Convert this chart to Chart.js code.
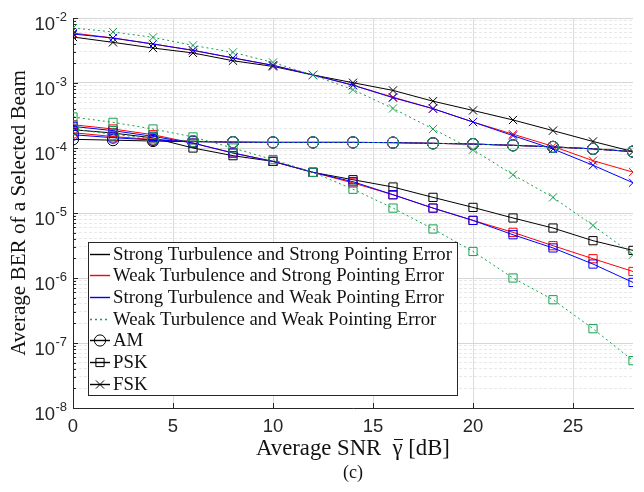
<!DOCTYPE html>
<html>
<head>
<meta charset="utf-8">
<script src="https://cdn.jsdelivr.net/npm/chart.js@4.4.1/dist/chart.umd.min.js"></script>
<style>
html,body{margin:0;padding:0;background:#fff;}
#wrap{position:relative;width:644px;height:492px;}
</style>
</head>
<body>
<div id="wrap"><canvas id="c" width="644" height="492"></canvas></div>
<script>
// ---------- data ----------
const snr = [0,2,4,6,8,10,12,14,16,18,20,22,24,26,28];
const xTickValues = [0,5,10,15,20,25];
const yTickExponents = [-8,-7,-6,-5,-4,-3,-2];
const scenarioNames = [
  'Strong Turbulence and Strong Pointing Error',
  'Weak Turbulence and Strong Pointing Error',
  'Strong Turbulence and Weak Pointing Error',
  'Weak Turbulence and Weak Pointing Error'
];
const modulationNames = ['AM','PSK','FSK'];
const xTitleParts = ['Average SNR  ', '\u03B3', ' [dB]'];
const yTitleText = 'Average BER of a Selected Beam';
const captionText = '(c)';

// AM
const amSS = [1.36e-4,1.32e-4,1.28e-4,1.25e-4,1.23e-4,1.22e-4,1.22e-4,1.22e-4,1.21e-4,1.18e-4,1.15e-4,1.10e-4,1.04e-4,9.7e-5,8.8e-5];
const amWS = [1.72e-4,1.50e-4,1.35e-4,1.27e-4,1.23e-4,1.22e-4,1.22e-4,1.22e-4,1.21e-4,1.18e-4,1.15e-4,1.10e-4,1.04e-4,9.7e-5,8.8e-5];
const amSW = [1.60e-4,1.44e-4,1.33e-4,1.26e-4,1.23e-4,1.22e-4,1.22e-4,1.22e-4,1.21e-4,1.18e-4,1.15e-4,1.10e-4,1.04e-4,9.7e-5,8.8e-5];
const amWW = [1.95e-4,1.62e-4,1.40e-4,1.28e-4,1.23e-4,1.22e-4,1.22e-4,1.22e-4,1.21e-4,1.18e-4,1.15e-4,1.10e-4,1.04e-4,9.7e-5,8.8e-5];
// PSK
const pskSS = [1.91e-4,1.70e-4,1.43e-4,1.00e-4,7.62e-5,6.22e-5,4.22e-5,3.25e-5,2.51e-5,1.74e-5,1.22e-5,8.38e-6,5.87e-6,3.75e-6,2.66e-6];
const pskWS = [2.28e-4,1.96e-4,1.60e-4,1.19e-4,8.38e-5,6.22e-5,4.22e-5,2.90e-5,1.91e-5,1.19e-5,7.69e-6,5.04e-6,3.14e-6,1.98e-6,1.26e-6];
const pskSW = [2.15e-4,1.85e-4,1.51e-4,1.19e-4,8.38e-5,6.22e-5,4.22e-5,3.03e-5,1.91e-5,1.19e-5,7.69e-6,4.63e-6,2.90e-6,1.64e-6,8.55e-7];
const pskWW = [3.00e-4,2.48e-4,1.96e-4,1.48e-4,1.00e-4,6.61e-5,4.22e-5,2.32e-5,1.19e-5,5.68e-6,2.56e-6,1.00e-6,4.63e-7,1.66e-7,5.35e-8];
// FSK
const fskSS = [5.10e-3,4.22e-3,3.45e-3,2.90e-3,2.20e-3,1.80e-3,1.33e-3,1.01e-3,7.69e-4,5.25e-4,3.78e-4,2.70e-4,1.85e-4,1.26e-4,8.8e-5];
const fskWS = [5.87e-3,4.92e-3,3.98e-3,3.18e-3,2.43e-3,1.87e-3,1.33e-3,9.25e-4,6.05e-4,4.03e-4,2.51e-4,1.63e-4,1.06e-4,6.38e-5,4.25e-5];
const fskSW = [5.67e-3,4.92e-3,3.98e-3,3.18e-3,2.43e-3,1.87e-3,1.33e-3,9.25e-4,5.94e-4,4.03e-4,2.51e-4,1.55e-4,9.66e-5,5.43e-5,2.92e-5];
const fskWW = [7.01e-3,6.10e-3,5.04e-3,3.79e-3,2.96e-3,2.07e-3,1.32e-3,7.89e-4,4.06e-4,1.96e-4,9.42e-5,3.88e-5,1.74e-5,6.44e-6,2.28e-6];

// ---------- styles ----------
const SERIF = '"Liberation Serif", "DejaVu Serif", serif';
const SANS = '"Liberation Sans", Arial, sans-serif';
const TEXT = '#262626';
const scenarioStyle = [
  {color:'#000000', dash:[], order:3},
  {color:'#ff0000', dash:[], order:2},
  {color:'#0000ff', dash:[], order:1},
  {color:'#16a04c', dash:[2,3], order:0}
];
const modStyle = {
  AM:  {pointStyle:'circle',   radius:5.6},
  PSK: {pointStyle:'rect',     radius:5.8},
  FSK: {pointStyle:'crossRot', radius:5.8}
};

const seriesTable = [
  {scen:0, mod:'AM', values:amSS},  {scen:1, mod:'AM', values:amWS},
  {scen:2, mod:'AM', values:amSW},  {scen:3, mod:'AM', values:amWW},
  {scen:0, mod:'PSK', values:pskSS},{scen:1, mod:'PSK', values:pskWS},
  {scen:2, mod:'PSK', values:pskSW},{scen:3, mod:'PSK', values:pskWW},
  {scen:0, mod:'FSK', values:fskSS},{scen:1, mod:'FSK', values:fskWS},
  {scen:2, mod:'FSK', values:fskSW},{scen:3, mod:'FSK', values:fskWW}
];

// font fitting helper
const mctx = document.createElement('canvas').getContext('2d');
function fitSize(text, family, target, base) {
  mctx.font = base + 'px ' + family;
  return base * target / mctx.measureText(text).width;
}
const xTitleText = xTitleParts.join('');
const legendFont = fitSize(scenarioNames[0], SERIF, 339, 18);
const xTitleFont = fitSize(xTitleText, SERIF, 194, 20);
const yTitleFont = fitSize(yTitleText, SERIF, 286, 20);

const datasets = seriesTable.map(s => {
  const sc = scenarioStyle[s.scen], ms = modStyle[s.mod];
  return {
    label: scenarioNames[s.scen] + ' ' + s.mod,
    data: snr.map((x, i) => ({x: x, y: s.values[i]})),
    borderColor: sc.color,
    borderWidth: 1,
    borderDash: sc.dash,
    pointStyle: ms.pointStyle,
    pointRadius: ms.radius,
    pointBorderColor: sc.color,
    pointBackgroundColor: 'rgba(0,0,0,0)',
    pointBorderWidth: 1,
    tension: 0,
    fill: false,
    order: sc.order
  };
});

function isMajor(v) {
  const l = Math.log10(v);
  return Math.abs(l - Math.round(l)) < 1e-6;
}

const decorPlugin = {
  id: 'decor',
  afterDraw(chart) {
    const ctx = chart.ctx;
    const a = chart.chartArea;
    const xs = chart.scales.x, ys = chart.scales.y;
    ctx.save();
    // inward ticks
    ctx.strokeStyle = TEXT; ctx.lineWidth = 1;
    ctx.beginPath();
    xTickValues.forEach(v => {
      const px = Math.round(xs.getPixelForValue(v)) + 0.5;
      ctx.moveTo(px, a.bottom); ctx.lineTo(px, a.bottom - 5);
    });
    ys.ticks.forEach(t => {
      const py = Math.round(ys.getPixelForValue(t.value)) + 0.5;
      const len = isMajor(t.value) ? 5 : 3;
      ctx.moveTo(a.left, py); ctx.lineTo(a.left + len, py);
    });
    ctx.stroke();
    // y tick labels 10^e
    ctx.fillStyle = TEXT;
    yTickExponents.forEach(e => {
      const py = ys.getPixelForValue(Math.pow(10, e));
      ctx.font = '18.5px ' + SANS;
      ctx.textAlign = 'right'; ctx.textBaseline = 'alphabetic';
      ctx.fillText('10', a.left - 18, py + 11.5);
      ctx.font = '13px ' + SANS;
      ctx.textAlign = 'left';
      ctx.fillText('-' + String(Math.abs(e)), a.left - 17.5, py + 2.5);
    });
    // overline over gamma in x title
    ctx.font = xTitleFont.toFixed(2) + 'px ' + SERIF;
    const totalW = ctx.measureText(xTitleText).width;
    const preW = ctx.measureText(xTitleParts[0]).width;
    const gW = ctx.measureText(xTitleParts[1]).width;
    const cx = (a.left + a.right) / 2;
    const gx = cx - totalW / 2 + preW;
    const ty = xs.bottom - 29 - xTitleFont * 1.2 / 2;
    ctx.fillStyle = '#111';
    ctx.fillRect(Math.round(gx + 1), Math.round(ty - xTitleFont * 0.45), Math.round(gW - 1), 1);
    // caption
    ctx.font = '18px ' + SERIF;
    ctx.textAlign = 'center'; ctx.textBaseline = 'middle';
    ctx.fillStyle = '#111';
    ctx.fillText(captionText, cx, 473);
    ctx.restore();
  },
  afterDatasetsDraw(chart) {
    const ctx = chart.ctx;
    const a = chart.chartArea;
    const L = a.left + 15, T = 242, W = 369, H = 153;
    ctx.save();
    ctx.setLineDash([]);
    ctx.globalAlpha = 1;
    ctx.fillStyle = '#ffffff';
    ctx.fillRect(L, T, W, H);
    ctx.strokeStyle = '#262626'; ctx.lineWidth = 1;
    ctx.strokeRect(L + 0.5, T + 0.5, W, H);
    const rowH = 21.67, y0 = T + 11.5;
    const rows = [];
    for (let i = 0; i < scenarioNames.length; i++) {
      rows.push({text: scenarioNames[i], color: scenarioStyle[i].color, dashed: scenarioStyle[i].dash.length > 0, mark: null});
    }
    for (let j = 0; j < modulationNames.length; j++) {
      rows.push({text: modulationNames[j], color: '#000000', dashed: false, mark: modStyle[modulationNames[j]]});
    }
    rows.forEach((en, i) => {
      const y = Math.round(y0 + i * rowH);
      ctx.save();
      ctx.strokeStyle = en.color;
      ctx.lineWidth = 1.4;
      ctx.setLineDash(en.dashed ? [2, 3] : []);
      ctx.beginPath();
      ctx.moveTo(L + 2, y + 0.5);
      ctx.lineTo(L + 22, y + 0.5);
      ctx.stroke();
      ctx.restore();
      if (en.mark) {
        ctx.save();
        ctx.fillStyle = 'rgba(0,0,0,0)';
        ctx.strokeStyle = en.color;
        ctx.lineWidth = 1;
        Chart.helpers.drawPoint(ctx, {pointStyle: en.mark.pointStyle, radius: en.mark.radius, rotation: 0, borderWidth: 1}, L + 12, y + 0.5);
        ctx.restore();
      }
      ctx.fillStyle = '#111';
      ctx.font = legendFont.toFixed(2) + 'px ' + SERIF;
      ctx.textAlign = 'left'; ctx.textBaseline = 'middle';
      ctx.fillText(en.text, L + 25, y + 1);
    });
    ctx.restore();
  }
};

new Chart(document.getElementById('c'), {
  type: 'line',
  data: { datasets: datasets },
  options: {
    responsive: false,
    animation: false,
    devicePixelRatio: 1,
    layout: { padding: { top: 18, right: 11, left: 0, bottom: 0 } },
    plugins: { legend: { display: false }, tooltip: { enabled: false } },
    scales: {
      x: {
        type: 'linear', min: 0, max: 28,
        afterBuildTicks: s => { s.ticks = xTickValues.map(v => ({value: v})); },
        afterFit: s => { s.height = 84; },
        ticks: { font: { family: SANS, size: 18.5 }, color: TEXT, padding: 8, maxRotation: 0, autoSkip: false },
        grid: { color: c => (c.tick && c.tick.value === 0) ? 'rgba(0,0,0,0)' : '#dcdcdc', drawTicks: false, lineWidth: 1 },
        border: { color: TEXT, width: 1 },
        title: { display: true, text: xTitleText, color: '#111', font: { family: SERIF, size: xTitleFont }, padding: { top: 0, bottom: 29 } }
      },
      y: {
        type: 'logarithmic', min: 1e-8, max: 1e-2,
        afterBuildTicks: s => {
          const t = [];
          for (let e = yTickExponents[0]; e < yTickExponents[yTickExponents.length - 1]; e++) {
            for (let m = 1; m <= 9; m++) t.push({value: m * Math.pow(10, e)});
          }
          t.push({value: Math.pow(10, yTickExponents[yTickExponents.length - 1])});
          s.ticks = t;
        },
        afterFit: s => { s.width = 73; },
        ticks: { display: false },
        grid: {
          color: c => (c.tick && isMajor(c.tick.value)) ? '#d6d6d6' : '#e8e8e8',
          drawTicks: false, lineWidth: 1
        },
        border: { color: TEXT, width: 1, dash: c => (c.tick && !isMajor(c.tick.value)) ? [3, 2] : [] },
        title: { display: true, text: yTitleText, color: '#111', font: { family: SERIF, size: yTitleFont }, padding: { top: 7, bottom: 0 } }
      }
    }
  },
  plugins: [decorPlugin]
});
</script>
</body>
</html>
